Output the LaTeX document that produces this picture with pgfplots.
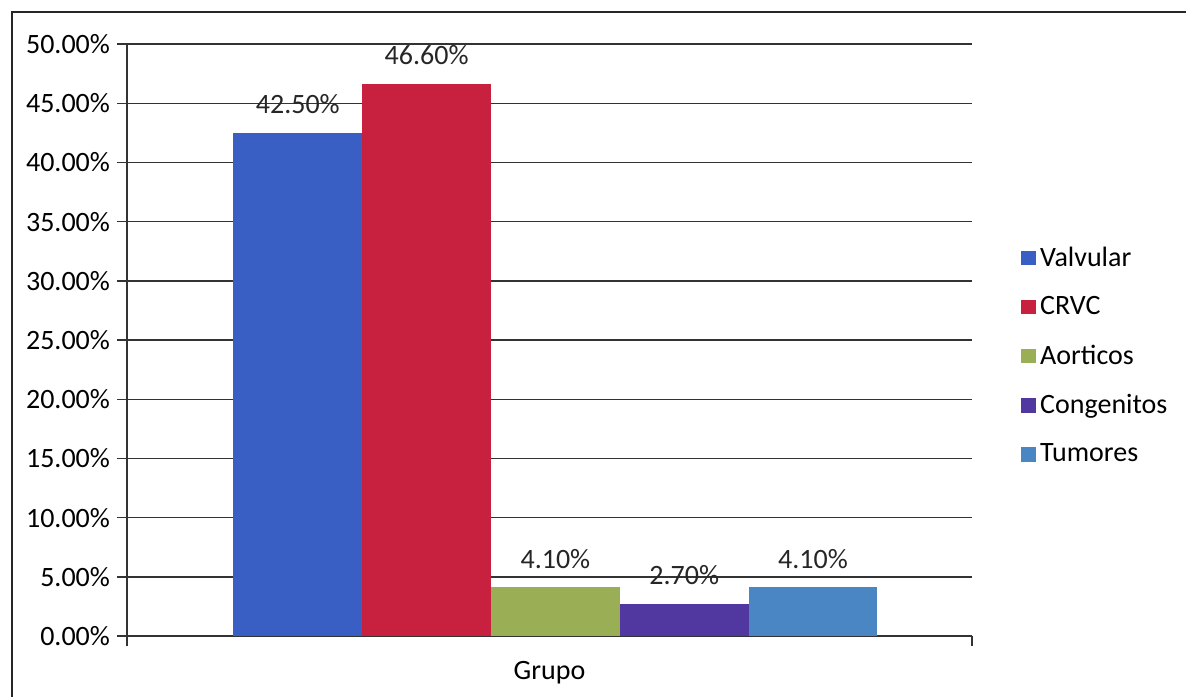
\documentclass[border=0pt]{standalone}
\usepackage{pgfplots}
\pgfplotsset{compat=1.18}
\usepackage{fontspec}
\setmainfont{Carlito}
\definecolor{cValv}{HTML}{3A5FC4}
\definecolor{cCRVC}{HTML}{C8203F}
\definecolor{cAort}{HTML}{9AAF55}
\definecolor{cCong}{HTML}{5038A0}
\definecolor{cTum}{HTML}{4A86C4}
\begin{document}
\begin{tikzpicture}
\useasboundingbox (0,0) rectangle (593pt,348.5pt);
\draw[line width=1pt, black!85] (6pt,0) -- (6pt,342.5pt) -- (593pt,342.5pt);
\begin{axis}[
  at={(63.5pt,30.5pt)}, anchor=south west,
  scale only axis, width=422.5pt, height=296pt,
  font=\fontsize{14pt}{16pt}\selectfont,
  /pgf/number format/assume math mode=true,
  ybar=0pt, bar width=64.4pt,
  xmin=-0.507, xmax=0.493,
  ymin=0, ymax=50,
  ytick={0,5,...,50},
  yticklabel={\pgfmathprintnumber[fixed,fixed zerofill,precision=2]{\tick}\%},
  xtick={-0.507,0.493}, xticklabels={},
  axis x line*=bottom, axis y line*=left,
  axis line style={black!80, line width=0.7pt, -},
  tick align=outside, major tick length=5pt,
  tick style={black!80, line width=0.7pt},
  ymajorgrids, grid style={black!80, line width=0.7pt},
  xlabel={Grupo},
  xlabel style={at={(axis description cs:0.5,0)}, anchor=north, yshift=-9pt},
  nodes near coords={\pgfmathprintnumber[fixed,fixed zerofill,precision=2]{\pgfplotspointmeta}\%},
  every node near coord/.append style={font=\fontsize{14pt}{16pt}\selectfont, black!85, yshift=6pt},
  legend style={at={(1.058,0.665)}, anchor=north west, draw=none, fill=none,
    font=\fontsize{14pt}{16pt}\selectfont, row sep=9.6pt, inner sep=0pt,
    legend cell align=left},
  legend image code/.code={\fill[#1] (0pt,-3.7pt) rectangle (7.4pt,3.7pt);},
  every axis plot/.append style={draw=none},
]
\addplot[fill=cValv] coordinates {(0,42.5)};
\addplot[fill=cCRVC] coordinates {(0,46.6)};
\addplot[fill=cAort] coordinates {(0,4.1)};
\addplot[fill=cCong] coordinates {(0,2.7)};
\addplot[fill=cTum] coordinates {(0,4.1)};
\legend{Valvular,CRVC,Aorticos,Congenitos,Tumores}
\end{axis}
\end{tikzpicture}
\end{document}
